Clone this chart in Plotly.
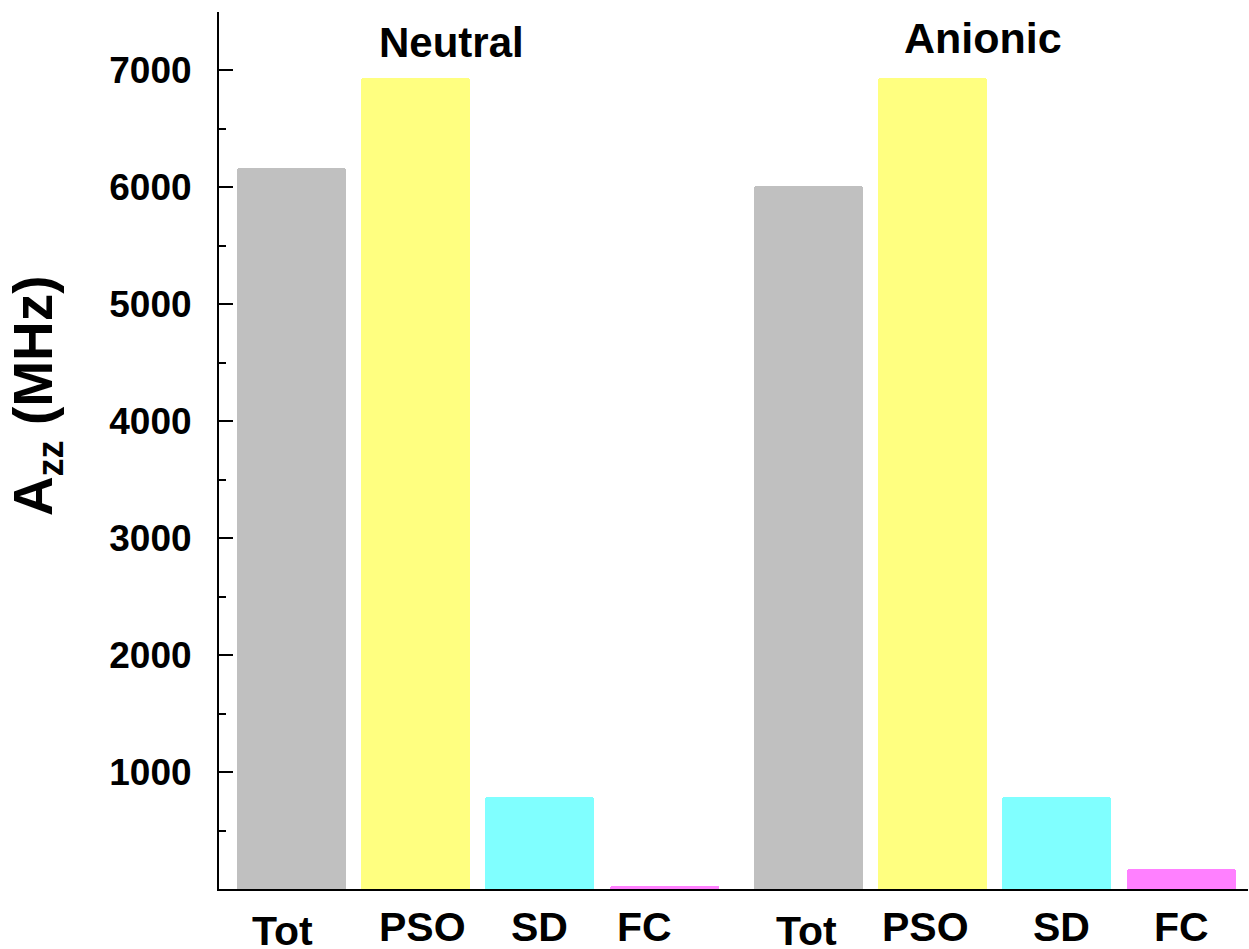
import plotly.graph_objects as go

# Hyperfine coupling components (MHz)
components = ["Tot", "PSO", "SD", "FC"]
neutral_vals = [6165, 6935, 790, 22]
anionic_vals = [6015, 6933, 790, 168]
bar_colors = ["#C0C0C0", "#FFFF80", "#80FFFF", "#FF80FF"]
y_tick_values = [1000, 2000, 3000, 4000, 5000, 6000, 7000]
y_tick_labels = ["1000", "2000", "3000", "4000", "5000", "6000", "7000"]

# bar slots: neutral group at 1..4, anionic group shifted with a wider gap
group_shift = 4.16
neutral_x = [i + 1 for i in range(len(components))]
anionic_x = [x + group_shift for x in neutral_x]

FONT = "Liberation Sans, Arial, sans-serif"

fig = go.Figure()
for xs, vals in ((neutral_x, neutral_vals), (anionic_x, anionic_vals)):
    fig.add_trace(go.Bar(
        x=xs, y=vals, width=0.877,
        marker=dict(color=bar_colors, line=dict(width=0), cornerradius=3),
        showlegend=False, hoverinfo="skip",
    ))

# category labels under each bar (small hand offsets)
label_dx = [-9, 7, 0, -20, -2, -7, 5, 0]
label_dy = [-4, 0, 0, 0, -4, 0, 0, 0]
for i, (x, name) in enumerate(zip(neutral_x + anionic_x, components + components)):
    fig.add_annotation(
        x=x, y=0, xref="x", yref="y", text=name, showarrow=False,
        yanchor="middle", yshift=-38 + label_dy[i], xshift=label_dx[i],
        font=dict(family=FONT, size=41, color="black", weight="bold"),
    )

# group titles
fig.add_annotation(x=2.29, y=7240, text="Neutral", showarrow=False,
                   font=dict(family=FONT, size=42, color="black", weight="bold"))
fig.add_annotation(x=6.566, y=7281, text="Anionic", showarrow=False,
                   font=dict(family=FONT, size=43, color="black", weight="bold"))

# y-axis title, set a little above the axis middle
fig.add_annotation(
    xref="paper", yref="paper", x=-0.177, y=0.563,
    xanchor="center", yanchor="middle", textangle=-90, showarrow=False,
    text="A<sub><span style='font-size:36px'>zz</span></sub> (MHz)",
    font=dict(family=FONT, size=55, color="black", weight="bold"),
)

fig.update_layout(
    width=1249, height=949,
    margin=dict(l=219, r=1, t=12, b=60),
    plot_bgcolor="white", paper_bgcolor="white",
    bargap=0,
    font=dict(family=FONT, color="black"),
)
fig.update_xaxes(
    range=[0.419, 8.698], showgrid=False, zeroline=False,
    showline=True, linecolor="black", linewidth=2,
    showticklabels=False, ticks="",
)
fig.update_yaxes(
    range=[0, 7500], showgrid=False, zeroline=False,
    showline=True, linecolor="black", linewidth=2,
    tickmode="array", tickvals=y_tick_values, ticktext=y_tick_labels,
    ticks="inside", ticklen=14, tickwidth=2, tickcolor="black",
    ticklabelstandoff=18,
    tickfont=dict(family=FONT, size=37, color="black", weight="bold"),
    minor=dict(tickmode="array", tickvals=[500 + 1000 * k for k in range(8)],
               ticks="inside", ticklen=7, tickwidth=2, tickcolor="black"),
)

fig.write_html("out.html")
